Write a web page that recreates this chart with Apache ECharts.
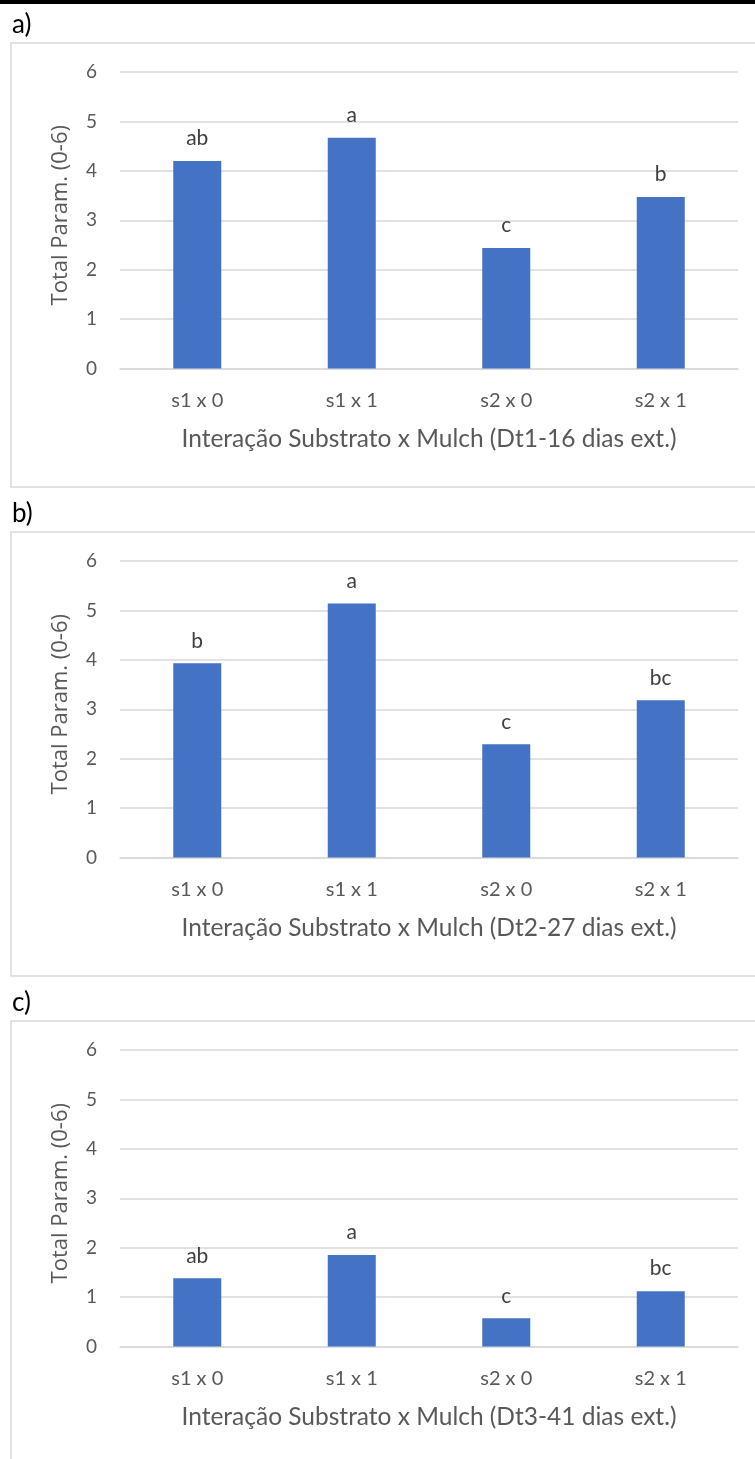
<!DOCTYPE html>
<html>
<head>
<meta charset="utf-8">
<script src="https://cdn.jsdelivr.net/npm/echarts@6/dist/echarts.min.js"></script>
<style>
html,body{margin:0;padding:0;background:#fff;}
#chart{width:755px;height:1459px;}
</style>
</head>
<body>
<div id="chart"></div>
<script>
// ---- data ----
const categories = ['s1 x 0', 's1 x 1', 's2 x 0', 's2 x 1'];
const valuesA = [4.20, 4.67, 2.44, 3.47];
const valuesB = [3.93, 5.14, 2.29, 3.18];
const valuesC = [1.38, 1.85, 0.57, 1.12];
const lettersA = ['ab', 'a', 'c', 'b'];
const lettersB = ['b', 'a', 'c', 'bc'];
const lettersC = ['ab', 'a', 'c', 'bc'];
const panelLabels = ['a)', 'b)', 'c)'];
const xTitles = [
  'Interação Substrato x Mulch (Dt1-16 dias ext.)',
  'Interação Substrato x Mulch (Dt2-27 dias ext.)',
  'Interação Substrato x Mulch (Dt3-41 dias ext.)'
];
const yTitle = 'Total Param. (0-6)';
const yMin = 0, yMax = 6, yInterval = 1;

// ---- layout ----
const FONT = 'Lato, "Open Sans", sans-serif';
const gridTops = [72, 561, 1050];
const gridH = 296.5;
const boxTops = [43, 532, 1021];
const boxH = 444;
const letterTops = [12, 501, 990];

const valueSets = [valuesA, valuesB, valuesC];
const letterSets = [lettersA, lettersB, lettersC];

const chart = echarts.init(document.getElementById('chart'), null, {renderer: 'canvas'});

const grids = [], xAxes = [], yAxes = [], series = [], graphics = [];

graphics.push({type: 'rect', shape: {x: 0, y: 0, width: 755, height: 4}, style: {fill: '#000'}, z: 10});

for (let i = 0; i < 3; i++) {
  grids.push({left: 120, right: 17, top: gridTops[i], height: gridH, containLabel: false});
  xAxes.push({
    type: 'category', gridIndex: i, data: categories,
    axisLine: {show: true, lineStyle: {color: '#d9d9d9', width: 1.5}},
    axisTick: {show: false},
    axisLabel: {color: '#595959', fontFamily: FONT, fontSize: 20, margin: 22},
    name: xTitles[i], nameLocation: 'middle', nameGap: 58,
    nameTextStyle: {color: '#595959', fontFamily: FONT, fontSize: 24.5}
  });
  yAxes.push({
    type: 'value', gridIndex: i, min: yMin, max: yMax, interval: yInterval,
    axisLine: {show: false}, axisTick: {show: false},
    splitLine: {show: true, lineStyle: {color: '#d9d9d9', width: 1.5}},
    axisLabel: {color: '#595959', fontFamily: FONT, fontSize: 19, margin: 23},
    name: yTitle, nameLocation: 'middle', nameGap: 48, nameRotate: 90,
    nameTextStyle: {color: '#595959', fontFamily: '"Open Sans", sans-serif', fontSize: 22, padding: [0, 0, 0, 10]}
  });
  const letters = letterSets[i];
  series.push({
    type: 'bar', xAxisIndex: i, yAxisIndex: i,
    data: valueSets[i], barWidth: 48,
    itemStyle: {color: '#4472C4'},
    label: {
      show: true, position: 'top', distance: 12,
      color: '#404040', fontFamily: FONT, fontSize: 21,
      formatter: p => letters[p.dataIndex]
    }
  });
  graphics.push({
    type: 'rect', shape: {x: 11, y: boxTops[i], width: 760, height: boxH},
    style: {fill: 'none', stroke: '#d9d9d9', lineWidth: 1.5}, z: 1
  });
  graphics.push({
    type: 'text', left: 12, top: letterTops[i],
    style: {text: panelLabels[i], fill: '#000', font: '26px ' + FONT}
  });
}

chart.setOption({
  animation: false,
  grid: grids, xAxis: xAxes, yAxis: yAxes, series: series,
  graphic: graphics
});
</script>
</body>
</html>
